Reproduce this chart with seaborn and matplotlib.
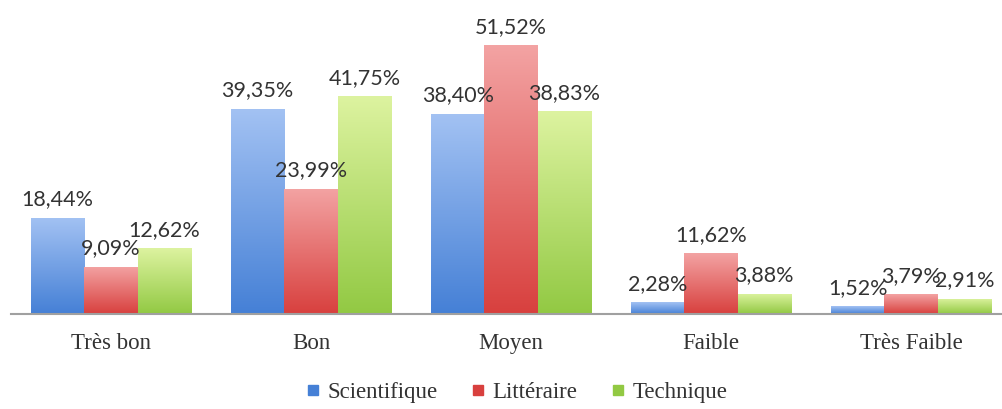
import numpy as np
import pandas as pd
import seaborn as sns
import matplotlib.pyplot as plt
from matplotlib.lines import Line2D
from matplotlib.colors import LinearSegmentedColormap

# data
categories = ["Très bon", "Bon", "Moyen", "Faible", "Très Faible"]
series = ["Scientifique", "Littéraire", "Technique"]
scientifique = [18.44, 39.35, 38.40, 2.28, 1.52]
litteraire = [9.09, 23.99, 51.52, 11.62, 3.79]
technique = [12.62, 41.75, 38.83, 3.88, 2.91]

df = pd.DataFrame({
    "categorie": categories * 3,
    "serie": [s for s in series for _ in categories],
    "valeur": scientifique + litteraire + technique,
})

# (top colour, bottom colour) for the gradient fill
grad = {
    "Scientifique": ("#a3c2f3", "#4580d6"),
    "Littéraire": ("#f3a3a3", "#d8403e"),
    "Technique": ("#ddf3a0", "#92c943"),
}
base = {k: v[1] for k, v in grad.items()}

sns.set_style("white")
fig = plt.figure(figsize=(10.02, 4.09), dpi=100)
ax = fig.add_axes([11 / 1002, 95 / 409, 990 / 1002, 313 / 409])

sns.barplot(data=df, x="categorie", y="valeur", hue="serie", order=categories,
            hue_order=series, palette=base, width=0.8, ax=ax, legend=False,
            saturation=1, edgecolor="none")

# gradient overlay clipped to each bar
n = len(categories)
for i, s in enumerate(series):
    cmap = LinearSegmentedColormap.from_list(s, [grad[s][1], grad[s][0]])
    g = np.linspace(0, 1, 256).reshape(-1, 1)
    for p in ax.patches[i * n:(i + 1) * n]:
        x0, y0 = p.get_x(), p.get_y()
        w, h = p.get_width(), p.get_height()
        im = ax.imshow(g, cmap=cmap, aspect="auto", origin="lower",
                       extent=[x0, x0 + w, y0, y0 + h], zorder=p.get_zorder() + 0.1)
        im.set_clip_path(p)
        lab = f"{h:.2f}%".replace(".", ",")
        ax.text(x0 + w / 2, h + 1.6, lab, ha="center", va="bottom",
                fontsize=15.5, color="#333333", family="Lato", zorder=5)

ax.set_xlim(-0.5, 4.45)
ax.set_ylim(0, 60)
ax.set_xlabel("")
ax.set_ylabel("")
ax.set_yticks([])
ax.tick_params(axis="x", length=0, pad=14, labelsize=16.5, labelcolor="#333333")
for t in ax.get_xticklabels():
    t.set_family("Liberation Serif")
for sp in ["top", "left", "right"]:
    ax.spines[sp].set_visible(False)
ax.spines["bottom"].set_color("#a0a0a0")
ax.spines["bottom"].set_linewidth(1.5)

handles = [Line2D([], [], marker="s", linestyle="none", markersize=7,
                  color=base[s], label=s) for s in series]
leg = fig.legend(handles=handles, loc="center", bbox_to_anchor=(516 / 1002, 1 - 392 / 409),
                 ncol=3, frameon=False, handlelength=0.7, handletextpad=0.3,
                 columnspacing=1.4, prop={"family": "Liberation Serif", "size": 16.5})
for t in leg.get_texts():
    t.set_color("#333333")

fig.savefig("out.png", dpi=100)
